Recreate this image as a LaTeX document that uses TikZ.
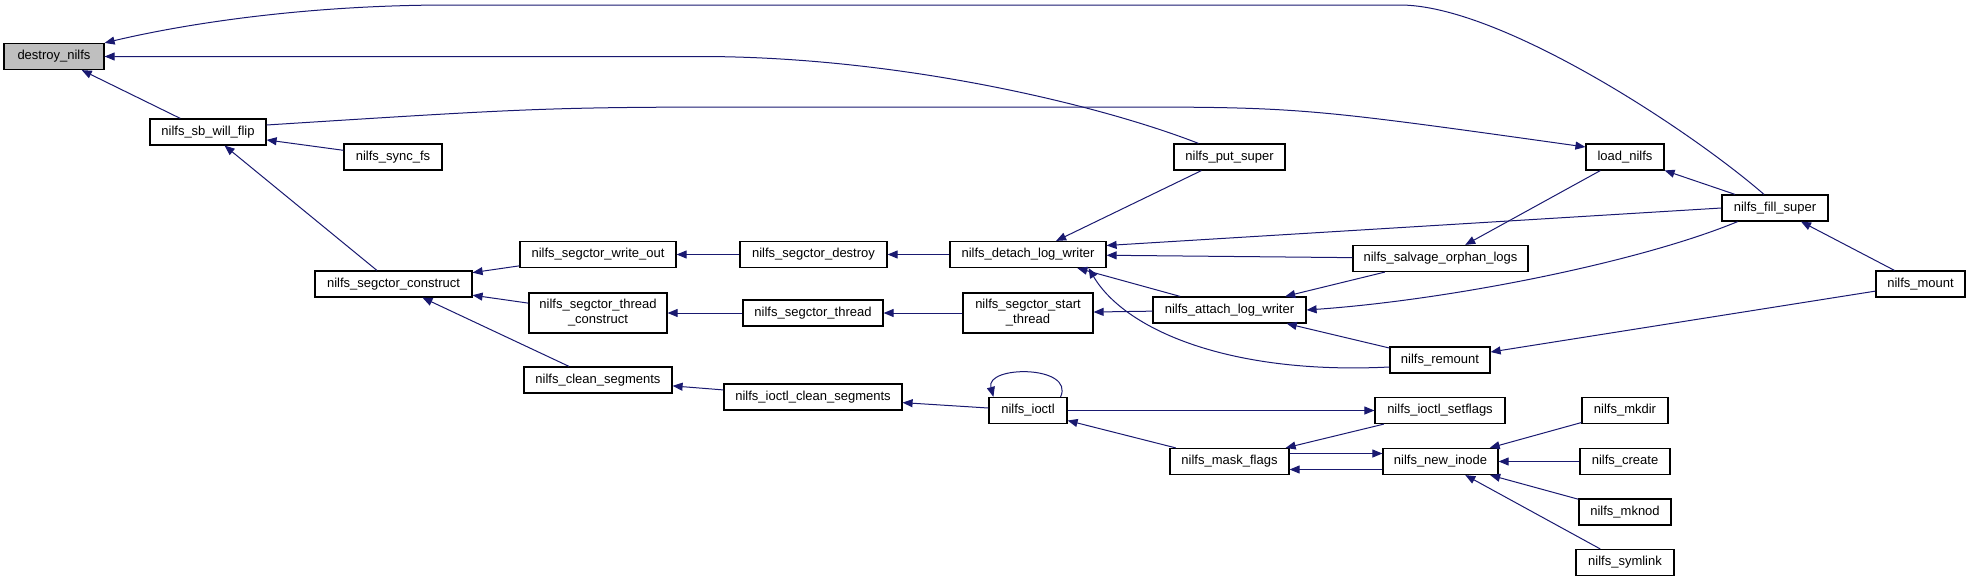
\documentclass[tikz,border=0pt]{standalone}
\usepackage{fontspec}
\setmainfont{Liberation Sans}
\usetikzlibrary{arrows.meta}
\definecolor{edgeblue}{HTML}{191970}
\definecolor{rootgray}{HTML}{BFBFBF}

\begin{document}
\begin{tikzpicture}[x=1pt, y=-1pt,
  fn/.style={draw=black, line width=1.2pt, fill=white, minimum width=#1,
             minimum height=26pt, inner sep=0pt, align=center,
             font=\fontsize{13pt}{15pt}\selectfont},
  fn/.default=100pt,
  call/.style={draw=edgeblue, line width=1pt, -{Triangle[length=10pt, width=8pt]}},
]
  \useasboundingbox (0,0) rectangle (1971,581);

  \node[fn=100pt, fill=rootgray] (destroy) at (54,56.5)    {destroy\_nilfs};
  \node[fn=116pt] (sbflip)          at (208,132)    {nilfs\_sb\_will\_flip};
  \node[fn=98pt]  (syncfs)          at (393,157)    {nilfs\_sync\_fs};
  \node[fn=157pt] (construct)       at (393.5,284)  {nilfs\_segctor\_construct};
  \node[fn=156pt] (writeout)        at (598,254.5)  {nilfs\_segctor\_write\_out};
  \node[fn=138pt, minimum height=40pt] (threadconstruct) at (598,313) {nilfs\_segctor\_thread\\\_construct};
  \node[fn=148pt] (cleanseg)        at (598,380)    {nilfs\_clean\_segments};
  \node[fn=147pt] (segdestroy)      at (813.5,254.5) {nilfs\_segctor\_destroy};
  \node[fn=140pt] (segthread)       at (813,313)    {nilfs\_segctor\_thread};
  \node[fn=178pt] (ioctlclean)      at (813,397)    {nilfs\_ioctl\_clean\_segments};
  \node[fn=156pt] (detach)          at (1028,254.5) {nilfs\_detach\_log\_writer};
  \node[fn=130pt, minimum height=40pt] (startthread) at (1028,313) {nilfs\_segctor\_start\\\_thread};
  \node[fn=78pt]  (ioctl)           at (1028,410.5) {nilfs\_ioctl};
  \node[fn=111pt] (putsuper)        at (1229.5,157) {nilfs\_put\_super};
  \node[fn=153pt] (attach)          at (1229.5,310) {nilfs\_attach\_log\_writer};
  \node[fn=119pt] (maskflags)       at (1229.5,461.5) {nilfs\_mask\_flags};
  \node[fn=175pt] (salvage)         at (1440.5,258.5) {nilfs\_salvage\_orphan\_logs};
  \node[fn=100pt] (remount)         at (1440,360)   {nilfs\_remount};
  \node[fn=130pt] (setflags)        at (1440,410.5) {nilfs\_ioctl\_setflags};
  \node[fn=115pt] (newinode)        at (1440.5,461.5) {nilfs\_new\_inode};
  \node[fn=78pt]  (loadnilfs)       at (1625,157)   {load\_nilfs};
  \node[fn=86pt]  (mkdir)           at (1625,410.5) {nilfs\_mkdir};
  \node[fn=90pt]  (create)          at (1625,461.5) {nilfs\_create};
  \node[fn=92pt]  (mknod)           at (1625,512)   {nilfs\_mknod};
  \node[fn=98pt]  (symlink)         at (1625,562.5) {nilfs\_symlink};
  \node[fn=106pt] (fillsuper)       at (1775,208)   {nilfs\_fill\_super};
  \node[fn=89pt]  (mount)           at (1920.5,284) {nilfs\_mount};

  \draw[call] (sbflip) -- (destroy);
  \draw[call] ([xshift=-11pt]fillsuper.north) .. controls (1690,130) and (1500,5) .. (1400,5)
              -- (450,5) .. controls (300,5) and (180,25) .. (destroy.north east);
  \draw[call] ([xshift=-31pt]putsuper.north) .. controls (1100,105) and (900,56.5) .. (700,56.5)
              -- (destroy.east);
  \draw[call] (construct) -- (sbflip);
  \draw[call] (syncfs) -- (sbflip);
  \draw[call] ([yshift=7pt]sbflip.east) .. controls (550,107) .. (800,107) -- (1100,107)
              .. controls (1300,107) .. ([yshift=10pt]loadnilfs.west);
  \draw[call] (writeout) -- (construct);
  \draw[call] (threadconstruct) -- (construct);
  \draw[call] (cleanseg) -- (construct);
  \draw[call] (segdestroy) -- (writeout);
  \draw[call] (detach) -- (segdestroy);
  \draw[call] (segthread) -- (threadconstruct);
  \draw[call] (startthread) -- (segthread);
  \draw[call] (attach) -- (startthread);
  \draw[call] (ioctlclean) -- (cleanseg);
  \draw[call] (ioctl) -- (ioctlclean);
  \draw[call] ([xshift=-7pt]ioctl.north east) .. controls (1075,365) and (985,365) .. ([xshift=5pt]ioctl.north west);
  \draw[call] (ioctl) -- (setflags);
  \draw[call] (setflags) -- (maskflags);
  \draw[call] (maskflags) -- (ioctl);
  \draw[call] ([yshift=8pt]maskflags.east) -- ([yshift=8pt]newinode.west);
  \draw[call] ([yshift=-8pt]newinode.west) -- ([yshift=-8pt]maskflags.east);
  \draw[call] (mkdir) -- (newinode);
  \draw[call] (create) -- (newinode);
  \draw[call] (mknod) -- (newinode);
  \draw[call] (symlink) -- (newinode);
  \draw[call] (putsuper) -- (detach);
  \draw[call] (fillsuper.west) -- ([yshift=9pt]detach.east);
  \draw[call] (salvage) -- (detach);
  \draw[call] (attach) -- (detach);
  \draw[call] ([yshift=-7pt]remount.west) .. controls (1230,375) and (1125,330) .. ([xshift=-18pt]detach.south east);
  \draw[call] (salvage) -- (attach);
  \draw[call] (remount) -- (attach);
  \draw[call] (fillsuper.200) .. controls (1640,262) and (1450,300) .. (attach.east);
  \draw[call] (fillsuper) -- (loadnilfs);
  \draw[call] (loadnilfs) -- (salvage);
  \draw[call] (mount) -- (fillsuper);
  \draw[call] (mount) -- (remount);
\end{tikzpicture}
\end{document}
